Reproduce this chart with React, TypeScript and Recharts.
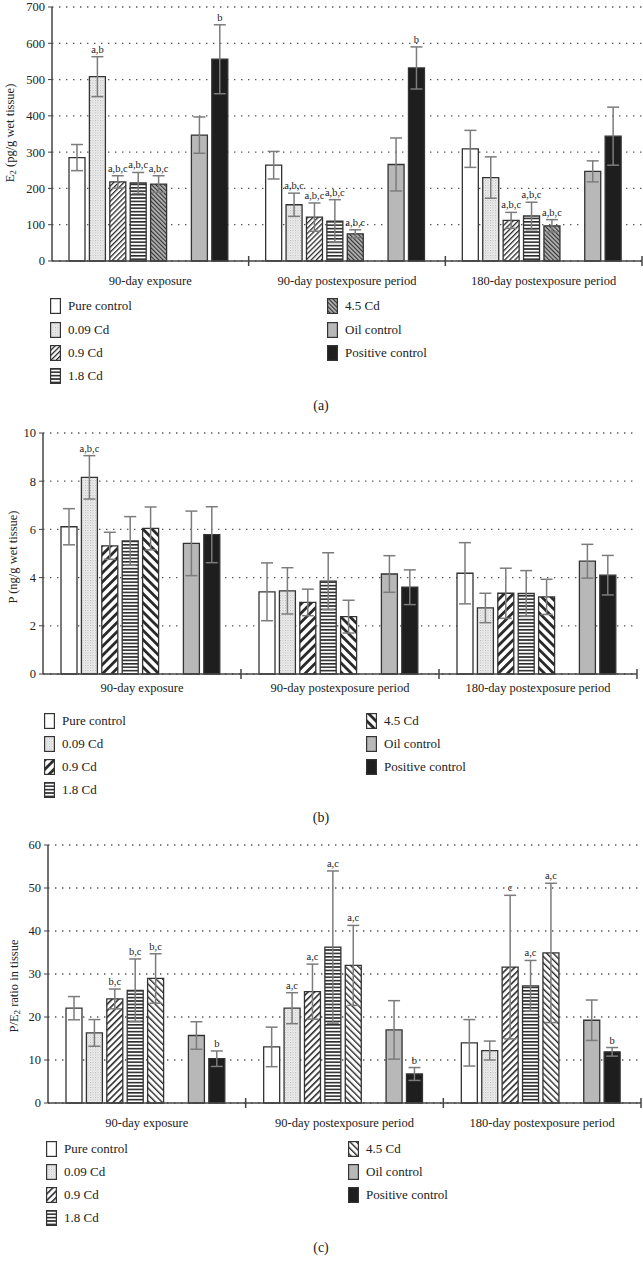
import React from 'react'
import { BarChart, Bar, XAxis, YAxis, CartesianGrid, ErrorBar, LabelList } from 'recharts'

// ── Data ───────────────────────────────────────────────────────────────────

const groups = ['90-day exposure', '90-day postexposure period', '180-day postexposure period']
const seriesKeys = ['pure', 'c009', 'c09', 'c18', 'c45', 'oil', 'pos']
const seriesNames = ['Pure control', '0.09 Cd', '0.9 Cd', '1.8 Cd', '4.5 Cd', 'Oil control', 'Positive control']

// (a) E2, pg/g wet tissue
const e2Pure = [285, 264, 309]
const e2PureErr = [36, 38, 51]
const e2C009 = [508, 155, 230]
const e2C009Err = [55, 32, 57]
const e2C09 = [218, 121, 112]
const e2C09Err = [17, 39, 22]
const e2C18 = [215, 110, 124]
const e2C18Err = [29, 59, 38]
const e2C45 = [212, 75, 97]
const e2C45Err = [23, 11, 17]
const e2Oil = [347, 266, 247]
const e2OilErr = [50, 73, 29]
const e2Pos = [556, 532, 344]
const e2PosErr = [95, 58, 80]
const e2SigC009 = ['a,b', 'a,b,c', '']
const e2SigCd = ['a,b,c', 'a,b,c', 'a,b,c']
const e2SigPos = ['b', 'b', '']
const e2Ticks = [0, 100, 200, 300, 400, 500, 600, 700]

// (b) P, ng/g wet tissue
const pPure = [6.11, 3.41, 4.18]
const pPureErr = [0.75, 1.2, 1.27]
const pC009 = [8.16, 3.45, 2.74]
const pC009Err = [0.9, 0.96, 0.61]
const pC09 = [5.32, 2.97, 3.35]
const pC09Err = [0.56, 0.55, 1.04]
const pC18 = [5.52, 3.85, 3.34]
const pC18Err = [1.01, 1.18, 0.95]
const pC45 = [6.04, 2.38, 3.2]
const pC45Err = [0.89, 0.68, 0.73]
const pOil = [5.42, 4.15, 4.68]
const pOilErr = [1.34, 0.76, 0.7]
const pPos = [5.78, 3.6, 4.1]
const pPosErr = [1.16, 0.72, 0.82]
const pSigC009 = ['a,b,c', '', '']
const pTicks = [0, 2, 4, 6, 8, 10]

// (c) P/E2 ratio
const rPure = [22.05, 13.04, 14.0]
const rPureErr = [2.7, 4.6, 5.4]
const rC009 = [16.3, 22.05, 12.2]
const rC009Err = [3.1, 3.6, 2.2]
const rC09 = [24.2, 25.9, 31.6]
const rC09Err = [2.3, 6.4, 16.7]
const rC18 = [26.2, 36.26, 27.25]
const rC18Err = [7.3, 17.7, 5.9]
const rC45 = [28.96, 32.0, 34.9]
const rC45Err = [5.75, 9.3, 16.2]
const rOil = [15.7, 17.0, 19.25]
const rOilErr = [3.2, 6.8, 4.7]
const rPos = [10.3, 6.75, 11.9]
const rPosErr = [1.8, 1.5, 1.0]
const rSigC009 = ['', 'a,c', '']
const rSigC09 = ['b,c', 'a,c', 'c']
const rSigC18 = ['b,c', 'a,c', 'a,c']
const rSigC45 = ['b,c', 'a,c', 'a,c']
const rSigPos = ['b', 'b', 'b']
const rTicks = [0, 10, 20, 30, 40, 50, 60]

const none = ['', '', '']

// ── Types / helpers ─────────────────────────────────────────────────────────

interface Series { key: string; mean: number[]; err: number[]; sig: string[] }

const FONT = '"Liberation Serif", "DejaVu Serif", serif'
const INK = '#222'

function mk(means: number[][], errs: number[][], sigs: string[][]): Series[] {
  return seriesKeys.map((key, i) => ({ key, mean: means[i], err: errs[i], sig: sigs[i] }))
}

function buildRows(series: Series[]) {
  return groups.map((g, i) => {
    const r: Record<string, string | number> = { group: g }
    series.forEach(s => {
      r[s.key] = s.mean[i]
      r[s.key + 'Err'] = s.err[i]
    })
    return r
  })
}

const solid: Record<string, string> = { pure: '#ffffff', oil: '#b8b8b8', pos: '#1e1e1e' }
const fillOf = (panel: string, key: string) => solid[key] ?? `url(#p${panel}-${key})`

function Hatch({ id, size, w, angle, bg = '#fff', color = '#2a2a2a' }:
  { id: string; size: number; w: number; angle: number; bg?: string; color?: string }) {
  return (
    <pattern id={id} width={size} height={size} patternUnits="userSpaceOnUse" patternTransform={`rotate(${angle})`}>
      <rect width={size} height={size} fill={bg} />
      <rect x={0} y={0} width={w} height={size} fill={color} />
    </pattern>
  )
}

function Stipple({ id }: { id: string }) {
  return (
    <pattern id={id} width={2.5} height={2.5} patternUnits="userSpaceOnUse">
      <rect width={2.5} height={2.5} fill="#f4f4f4" />
      <rect x={0} y={0} width={1} height={1} fill="#b0b0b0" />
      <rect x={1.25} y={1.25} width={1} height={1} fill="#c8c8c8" />
    </pattern>
  )
}

function Patterns() {
  return (
    <svg width={0} height={0} style={{ position: 'absolute' }}>
      <defs>
        <Stipple id="pa-c009" />
        <Hatch id="pa-c09" size={3.6} w={1.3} angle={45} />
        <Hatch id="pa-c18" size={3.4} w={1.6} angle={90} />
        <Hatch id="pa-c45" size={3} w={1.1} angle={-45} bg="#b0b0b0" color="#333" />
        <Stipple id="pb-c009" />
        <Hatch id="pb-c09" size={6.5} w={2.8} angle={45} />
        <Hatch id="pb-c18" size={3.4} w={1.6} angle={90} />
        <Hatch id="pb-c45" size={6.5} w={2.8} angle={-45} />
        <Stipple id="pc-c009" />
        <Hatch id="pc-c09" size={4.6} w={1.6} angle={45} />
        <Hatch id="pc-c18" size={3.4} w={1.6} angle={90} />
        <Hatch id="pc-c45" size={4.6} w={1.4} angle={-45} />
      </defs>
    </svg>
  )
}

// significance letters above the error bar cap
function sigContent(s: Series) {
  // eslint-disable-next-line @typescript-eslint/no-explicit-any
  return (props: any) => {
    const vb = props.viewBox ?? props
    let i = props.index
    if (i === undefined) i = s.mean.indexOf(Number(props.value))
    const text = s.sig[i]
    if (!text || vb.height === undefined) return null
    const top = Math.min(vb.y, vb.y + vb.height)
    const h = Math.abs(vb.height)
    const errTop = top - (s.err[i] * h) / s.mean[i]
    return (
      <text x={vb.x + vb.width / 2} y={errTop - 4} textAnchor="middle" fontSize={10.5} fill={INK} fontFamily={FONT}>
        {text}
      </text>
    )
  }
}

// eslint-disable-next-line @typescript-eslint/no-explicit-any
function GroupTick(props: any) {
  const { x, payload, axisY, half, dy } = props
  const idx = payload?.index ?? props.index ?? 0
  const off = payload?.offset || half
  return (
    <g>
      <text x={x} y={axisY + dy} textAnchor="middle" fontSize={12.5} fill={INK} fontFamily={FONT}>
        {payload.value}
      </text>
      {idx > 0 && <line x1={x - off} x2={x - off} y1={axisY - 5} y2={axisY + 5} stroke="#444" strokeWidth={1.5} />}
      {idx === groups.length - 1 && (
        <line x1={x + off} x2={x + off} y1={axisY - 5} y2={axisY + 5} stroke="#444" strokeWidth={1.5} />
      )}
    </g>
  )
}

function LegendItem({ x, y, fill, label }: { x: number; y: number; fill: string; label: string }) {
  return (
    <div style={{ position: 'absolute', left: x, top: y - 8, height: 16, display: 'flex', alignItems: 'center', whiteSpace: 'nowrap' }}>
      <svg width={11} height={16} style={{ display: 'block' }}>
        <rect x={0.6} y={0.6} width={9.8} height={14.8} fill={fill} stroke="#333" strokeWidth={1.2} />
      </svg>
      <span style={{ marginLeft: 7, fontSize: 13, color: INK, lineHeight: '16px' }}>{label}</span>
    </div>
  )
}

// ── Panel ───────────────────────────────────────────────────────────────────

interface PanelCfg {
  id: string
  top: number
  chartH: number
  margin: { top: number; right: number; left: number; bottom: number }
  yW: number
  catGap: number
  ticks: number[]
  series: Series[]
  yLabel: React.ReactNode
  yLabelPos: [number, number]
  labelDy: number
  legendX: [number, number]
  legendY: number[]
  caption: string
  captionY: number
}

function Panel({ p }: { p: PanelCfg }) {
  const data = buildRows(p.series)
  const axisY = p.chartH - 30 - p.margin.bottom
  const plotW = 643 - p.margin.left - p.margin.right - p.yW
  const order = ['pure', 'c009', 'c09', 'c18', 'c45', 'gap', 'oil', 'pos']
  return (
    <>
      <div style={{ position: 'absolute', left: 0, top: p.top }}>
        <BarChart width={643} height={p.chartH} data={data} margin={p.margin}
          barCategoryGap={p.catGap} barGap={4.4}>
          <CartesianGrid vertical={false} stroke="#555" strokeDasharray="1.4 5.6" strokeWidth={1.3} />
          <XAxis dataKey="group" height={30} interval={0} tickLine={false}
            axisLine={{ stroke: '#444', strokeWidth: 1.5 }}
            tick={<GroupTick axisY={axisY} half={plotW / 6} dy={p.labelDy} />} />
          <YAxis width={p.yW} domain={[p.ticks[0], p.ticks[p.ticks.length - 1]]} ticks={p.ticks}
            interval={0} tickSize={4} tickMargin={3}
            axisLine={{ stroke: '#444', strokeWidth: 1.5 }} tickLine={{ stroke: '#444' }}
            tick={{ fill: INK, fontSize: 12.5, fontFamily: FONT }} />
          {order.map(key => {
            if (key === 'gap') return <Bar key={key} dataKey="gap" isAnimationActive={false} />
            const s = p.series.find(x => x.key === key)!
            return (
              <Bar key={key} dataKey={key} fill={fillOf(p.id, key)} stroke="#333" strokeWidth={1.3}
                isAnimationActive={false}>
                <ErrorBar dataKey={key + 'Err'} width={6} stroke="#7c7c7c" strokeWidth={1.5} direction="y" />
                <LabelList dataKey={key} content={sigContent(s)} />
              </Bar>
            )
          })}
        </BarChart>
      </div>
      <div style={{
        position: 'absolute', left: p.yLabelPos[0], top: p.top + p.yLabelPos[1],
        transform: 'translate(-50%, -50%) rotate(-90deg)', whiteSpace: 'nowrap', fontSize: 12.5, color: INK,
      }}>
        {p.yLabel}
      </div>
      {seriesKeys.map((key, i) => (
        <LegendItem key={key} x={i < 4 ? p.legendX[0] : p.legendX[1]} y={p.legendY[i < 4 ? i : i - 4]}
          fill={fillOf(p.id, key)} label={seriesNames[i]} />
      ))}
      <div style={{ position: 'absolute', left: 321, top: p.captionY, transform: 'translate(-50%, -50%)', fontSize: 14, color: INK }}>
        {p.caption}
      </div>
    </>
  )
}

const sub2 = <sub style={{ fontSize: 9, verticalAlign: '-2px' }}>2</sub>

const panels: PanelCfg[] = [
  {
    id: 'a', top: 0, chartH: 291, margin: { top: 7, right: 1, left: 0, bottom: 0 }, yW: 52, catGap: 17,
    ticks: e2Ticks,
    series: mk(
      [e2Pure, e2C009, e2C09, e2C18, e2C45, e2Oil, e2Pos],
      [e2PureErr, e2C009Err, e2C09Err, e2C18Err, e2C45Err, e2OilErr, e2PosErr],
      [none, e2SigC009, e2SigCd, e2SigCd, e2SigCd, none, e2SigPos],
    ),
    yLabel: <span>E{sub2} (pg/g wet tissue)</span>, yLabelPos: [10, 133], labelDy: 24,
    legendX: [50, 327], legendY: [306, 329.5, 353, 376], caption: '(a)', captionY: 406,
  },
  {
    id: 'b', top: 425, chartH: 279, margin: { top: 8, right: 6, left: 0, bottom: 0 }, yW: 43, catGap: 18,
    ticks: pTicks,
    series: mk(
      [pPure, pC009, pC09, pC18, pC45, pOil, pPos],
      [pPureErr, pC009Err, pC09Err, pC18Err, pC45Err, pOilErr, pPosErr],
      [none, pSigC009, none, none, none, none, none],
    ),
    yLabel: <span>P (ng/g wet tissue)</span>, yLabelPos: [13, 132], labelDy: 18,
    legendX: [44, 366], legendY: [296, 319, 342, 365], caption: '(b)', captionY: 393,
  },
  {
    id: 'c', top: 837, chartH: 296, margin: { top: 8, right: 2, left: 0, bottom: 0 }, yW: 48, catGap: 18,
    ticks: rTicks,
    series: mk(
      [rPure, rC009, rC09, rC18, rC45, rOil, rPos],
      [rPureErr, rC009Err, rC09Err, rC18Err, rC45Err, rOilErr, rPosErr],
      [none, rSigC009, rSigC09, rSigC18, rSigC45, none, rSigPos],
    ),
    yLabel: <span>P/E{sub2} ratio in tissue</span>, yLabelPos: [14, 149], labelDy: 24,
    legendX: [46, 348], legendY: [312, 335, 358, 381], caption: '(c)', captionY: 411,
  },
]

export default function App() {
  return (
    <div style={{ position: 'relative', width: 643, height: 1270, background: '#fff', fontFamily: FONT, overflow: 'hidden' }}>
      <style>{'body{margin:0}'}</style>
      <Patterns />
      {panels.map(p => (
        <div key={p.id} style={{ position: 'absolute', left: 0, top: 0, width: 643 }}>
          <Panel p={{ ...p, legendY: p.legendY.map(v => v + p.top), captionY: p.captionY + p.top }} />
        </div>
      ))}
    </div>
  )
}
